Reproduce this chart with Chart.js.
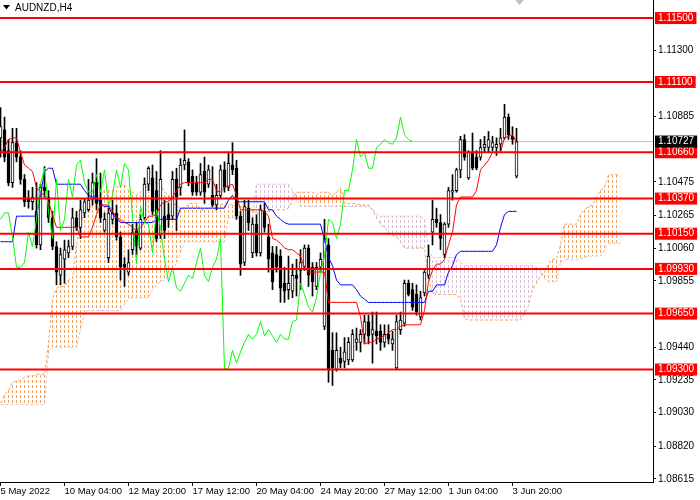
<!DOCTYPE html>
<html>
<head>
<meta charset="utf-8">
<script src="https://cdn.jsdelivr.net/npm/chart.js@4.4.1/dist/chart.umd.min.js"></script>
<style>
  html, body { margin: 0; padding: 0; background: #fff; }
  #wrap { width: 700px; height: 500px; }
</style>
</head>
<body>
<div id="wrap"><canvas id="myChart" width="700" height="500"></canvas></div>
<script>
// AUDNZD H4 with Ichimoku

const symbol = "AUDNZD,H4";

// one entry per H4 bar, bar 0 = first bar on screen
const opens = [
  1.1075, 1.1080, 1.1067, 1.1047, 1.1072, 1.1063, 1.1049, 1.1037, 1.1035, 1.1029,
  1.1008, 1.1044, 1.1038, 1.1025, 1.1007, 1.0989, 1.0999, 1.1003, 1.1007, 1.1025,
  1.1019, 1.1028, 1.1030, 1.1036, 1.1047, 1.1036, 1.1017, 1.1000, 1.1024, 1.1028,
  1.1013, 1.0996, 1.0991, 1.1005, 1.1017, 1.1006, 1.1025, 1.1046, 1.1050, 1.1042,
  1.1014, 1.1026, 1.1027, 1.1026, 1.1049, 1.1044, 1.1058, 1.1060, 1.1051, 1.1047,
  1.1041, 1.1054, 1.1046, 1.1039, 1.1033, 1.1039, 1.1055, 1.1044, 1.1058, 1.1056,
  1.1026, 1.0997, 1.1031, 1.1003, 1.1021, 1.1003, 1.1029, 1.1013, 1.1003, 1.1002,
  1.1001, 1.0984, 1.0980, 1.0979, 1.0989, 1.0992, 1.0994, 1.1006, 1.0994, 1.0982,
  1.0994, 1.0957, 1.1008, 1.0942, 1.0930, 1.0937, 1.0935, 1.0936, 1.0936, 1.0947,
  1.0947, 1.0952, 1.0960, 1.0952, 1.0954, 1.0954, 1.0947, 1.0952, 1.0946, 1.0931,
  1.0955, 1.0959, 1.0984, 1.0980, 1.0977, 1.0963, 1.0978, 1.0989, 1.1016, 1.1024,
  1.1022, 1.1002, 1.1021, 1.1041, 1.1042, 1.1055, 1.1074, 1.1050, 1.1066, 1.1063,
  1.1063, 1.1069, 1.1069, 1.1069, 1.1069, 1.1071, 1.1075, 1.1088, 1.1076, 1.1051
];
const highs = [
  1.1094, 1.1088, 1.1074, 1.1081, 1.1081, 1.1067, 1.1052, 1.1042, 1.1044, 1.1047,
  1.1046, 1.1057, 1.1042, 1.1029, 1.1010, 1.1006, 1.1011, 1.1011, 1.1031, 1.1029,
  1.1036, 1.1037, 1.1049, 1.1053, 1.1062, 1.1053, 1.1028, 1.1031, 1.1036, 1.1033,
  1.1016, 1.1000, 1.1005, 1.1021, 1.1022, 1.1027, 1.1050, 1.1057, 1.1058, 1.1054,
  1.1067, 1.1036, 1.1034, 1.1054, 1.1056, 1.1062, 1.1080, 1.1062, 1.1055, 1.1051,
  1.1059, 1.1063, 1.1058, 1.1057, 1.1046, 1.1058, 1.1060, 1.1066, 1.1072, 1.1061,
  1.1029, 1.1036, 1.1036, 1.1025, 1.1027, 1.1033, 1.1034, 1.1021, 1.1007, 1.1007,
  1.1005, 1.0994, 1.1001, 1.0996, 1.0999, 1.1005, 1.1008, 1.1008, 1.0997, 1.0997,
  1.1003, 1.1024, 1.1012, 1.0953, 1.0953, 1.0944, 1.0950, 1.0950, 1.0955, 1.0956,
  1.0955, 1.0964, 1.0964, 1.0966, 1.0966, 1.0958, 1.0958, 1.0958, 1.0954, 1.0964,
  1.0966, 1.0986, 1.0986, 1.0984, 1.0983, 1.0979, 1.0992, 1.1008, 1.1036, 1.1031,
  1.1027, 1.1022, 1.1044, 1.1052, 1.1056, 1.1076, 1.1077, 1.1067, 1.1078, 1.1067,
  1.1074, 1.1076, 1.1079, 1.1076, 1.1075, 1.1081, 1.1096, 1.1090, 1.1082, 1.1081
];
const lows = [
  1.1063, 1.1060, 1.1045, 1.1044, 1.1060, 1.1046, 1.1032, 1.1031, 1.1030, 1.1006,
  1.1005, 1.1038, 1.1022, 1.1005, 1.0983, 1.0983, 1.0984, 1.1000, 1.1005, 1.1017,
  1.1012, 1.1025, 1.1029, 1.1033, 1.1030, 1.1022, 1.1016, 1.0997, 1.1021, 1.1011,
  1.0986, 1.0982, 1.0989, 1.1002, 1.1002, 1.1005, 1.1024, 1.1042, 1.1027, 1.1010,
  1.1012, 1.1012, 1.1019, 1.1024, 1.1017, 1.1039, 1.1055, 1.1045, 1.1039, 1.1039,
  1.1039, 1.1034, 1.1044, 1.1032, 1.1030, 1.1037, 1.1041, 1.1042, 1.1052, 1.1024,
  1.0989, 1.0995, 1.1017, 1.1000, 1.1001, 1.1001, 1.1016, 1.0991, 1.0980, 1.0991,
  1.0972, 1.0972, 1.0974, 1.0975, 1.0976, 1.0980, 1.0992, 1.0982, 1.0976, 1.0980,
  1.0991, 1.0955, 1.0922, 1.0920, 1.0929, 1.0931, 1.0931, 1.0933, 1.0935, 1.0942,
  1.0941, 1.0946, 1.0946, 1.0934, 1.0946, 1.0942, 1.0944, 1.0946, 1.0942, 1.0930,
  1.0952, 1.0957, 1.0976, 1.0967, 1.0964, 1.0961, 1.0976, 1.0987, 1.1008, 1.1019,
  1.1005, 1.1000, 1.1019, 1.1036, 1.1041, 1.1050, 1.1061, 1.1049, 1.1055, 1.1055,
  1.1061, 1.1066, 1.1066, 1.1067, 1.1064, 1.1067, 1.1074, 1.1074, 1.1071, 1.1050
];
const closes = [
  1.1082, 1.1063, 1.1047, 1.1072, 1.1063, 1.1049, 1.1035, 1.1035, 1.1038, 1.1008,
  1.1044, 1.1042, 1.1025, 1.1007, 1.0991, 1.1002, 1.1005, 1.1007, 1.1025, 1.1019,
  1.1030, 1.1035, 1.1036, 1.1047, 1.1034, 1.1025, 1.1024, 1.1028, 1.1028, 1.1013,
  1.0994, 1.0994, 1.0997, 1.1016, 1.1007, 1.1024, 1.1046, 1.1056, 1.1029, 1.1012,
  1.1049, 1.1017, 1.1024, 1.1049, 1.1038, 1.1058, 1.1061, 1.1047, 1.1041, 1.1041,
  1.1052, 1.1041, 1.1055, 1.1033, 1.1039, 1.1055, 1.1044, 1.1059, 1.1055, 1.1026,
  1.0996, 1.1032, 1.1022, 1.1021, 1.1003, 1.1030, 1.1019, 1.0999, 1.0985, 1.0994,
  1.0981, 1.0979, 1.0984, 1.0989, 1.0987, 1.0997, 1.1006, 1.0989, 1.0985, 1.0994,
  1.0999, 1.1012, 1.0930, 1.0931, 1.0942, 1.0934, 1.0941, 1.0947, 1.0952, 1.0949,
  1.0952, 1.0960, 1.0951, 1.0955, 1.0951, 1.0947, 1.0952, 1.0949, 1.0949, 1.0960,
  1.0961, 1.0984, 1.0977, 1.0969, 1.0966, 1.0975, 1.0991, 1.1001, 1.1024, 1.1022,
  1.1012, 1.1021, 1.1042, 1.1042, 1.1055, 1.1074, 1.1063, 1.1066, 1.1056, 1.1056,
  1.1069, 1.1071, 1.1074, 1.1072, 1.1071, 1.1075, 1.1088, 1.1077, 1.1074, 1.10727
];

// Ichimoku lines as drawn
const tenkan = [
  1.1066, 1.1069, 1.1074, 1.1075, 1.1075, 1.1066, 1.1058, 1.1056, 1.1054, 1.1044,
  1.1041, 1.1039, 1.1035, 1.1027, 1.1019, 1.1019, 1.1019, 1.1019, 1.1019, 1.1019,
  1.1013, 1.1013, 1.1013, 1.1019, 1.1027, 1.1033, 1.1033, 1.1033, 1.1029, 1.1025,
  1.1024, 1.1022, 1.1021, 1.1019, 1.1017, 1.1019, 1.1022, 1.1026, 1.1026, 1.1027,
  1.1033, 1.1035, 1.1035, 1.1038, 1.1042, 1.1046, 1.1047, 1.1047, 1.1047, 1.1047,
  1.1047, 1.1047, 1.1049, 1.1049, 1.1042, 1.1041, 1.1044, 1.1045, 1.1046, 1.1039,
  1.1030, 1.1030, 1.1030, 1.1030, 1.1030, 1.1030, 1.1029, 1.1026, 1.1012, 1.1011,
  1.1009, 1.1006, 1.1005, 1.1005, 1.1003, 1.1001, 1.0994, 1.0991, 1.0991, 1.0991,
  1.0991, 1.0991, 1.0972, 1.0972, 1.0972, 1.0972, 1.0972, 1.0972, 1.0972, 1.0972,
  1.0963, 1.0946, 1.0947, 1.0947, 1.0949, 1.0950, 1.0951, 1.0953, 1.0955, 1.0955,
  1.0957, 1.0958, 1.0958, 1.0958, 1.0958, 1.0958, 1.0967, 1.0985, 1.0992, 1.0996,
  1.0996, 1.0999, 1.1008, 1.1016, 1.1033, 1.1038, 1.1038, 1.1038, 1.1038, 1.1042,
  1.1055, 1.1058, 1.1061, 1.1066, 1.1066, 1.1066, 1.1075, 1.1076, 1.1077, 1.1072
];
const kijun = [
  1.1010, 1.1010, 1.1010, 1.1010, 1.1026, 1.1026, 1.1026, 1.1026, 1.1026, 1.1026,
  1.1039, 1.1054, 1.1056, 1.1056, 1.1046, 1.1046, 1.1046, 1.1046, 1.1046, 1.1046,
  1.1046, 1.1042, 1.1039, 1.1038, 1.1038, 1.1034, 1.1032, 1.1032, 1.1027, 1.1025,
  1.1022, 1.1022, 1.1022, 1.1022, 1.1022, 1.1022, 1.1022, 1.1022, 1.1022, 1.1024,
  1.1024, 1.1024, 1.1024, 1.1024, 1.1024, 1.1031, 1.1031, 1.1031, 1.1031, 1.1031,
  1.1031, 1.1031, 1.1031, 1.1031, 1.1031, 1.1031, 1.1031, 1.1036, 1.1039, 1.1035,
  1.1035, 1.1035, 1.1035, 1.1035, 1.1035, 1.1035, 1.1035, 1.1030, 1.1030, 1.1026,
  1.1024, 1.1022, 1.1021, 1.1021, 1.1021, 1.1021, 1.1021, 1.1021, 1.1021, 1.1021,
  1.1021, 1.1011, 1.1000, 1.0995, 1.0986, 1.0983, 1.0983, 1.0983, 1.0983, 1.0980,
  1.0976, 1.0974, 1.0972, 1.0972, 1.0972, 1.0972, 1.0972, 1.0972, 1.0972, 1.0972,
  1.0972, 1.0972, 1.0972, 1.0972, 1.0972, 1.0972, 1.0972, 1.0979, 1.0979, 1.0983,
  1.0983, 1.0983, 1.0991, 1.0995, 1.1002, 1.1004, 1.1004, 1.1004, 1.1004, 1.1004,
  1.1004, 1.1004, 1.1004, 1.1004, 1.1008, 1.1019, 1.1027, 1.1029, 1.1029, 1.1029
];
// senkou spans run 26 bars past the last candle
const senkouA = [
  1.0909, 1.0914, 1.0917, 1.0922, 1.0923, 1.0923, 1.0925, 1.0926, 1.0926, 1.0927,
  1.0927, 1.0927, 1.0946, 1.0974, 1.0981, 1.0982, 1.0982, 1.0986, 1.0987, 1.1008,
  1.1022, 1.1027, 1.1030, 1.1034, 1.1037, 1.1039, 1.1042, 1.1042, 1.1042, 1.1044,
  1.1045, 1.1046, 1.1042, 1.1041, 1.1039, 1.1041, 1.1044, 1.1044, 1.1047, 1.1047,
  1.1046, 1.1041, 1.1039, 1.1034, 1.1033, 1.1031, 1.1031, 1.1034, 1.1034, 1.1034,
  1.1030, 1.1030, 1.1031, 1.1032, 1.1033, 1.1033, 1.1034, 1.1034, 1.1033, 1.1032,
  1.1032, 1.1032, 1.1031, 1.1030, 1.1028, 1.1028, 1.1029, 1.1029, 1.1029, 1.1030,
  1.1030, 1.1030, 1.1031, 1.1036, 1.1041, 1.1041, 1.1041, 1.1041, 1.1041, 1.1039,
  1.1041, 1.1041, 1.1041, 1.1039, 1.1041, 1.1044, 1.1034, 1.1034, 1.1034, 1.1034,
  1.1033, 1.1033, 1.1033, 1.1030, 1.1025, 1.1021, 1.1019, 1.1016, 1.1014, 1.1013,
  1.1010, 1.1006, 1.1006, 1.1006, 1.1006, 1.1006, 1.1006, 1.0986, 1.0978, 1.0977,
  1.0977, 1.0977, 1.0977, 1.0977, 1.0977, 1.0974, 1.0962, 1.0961, 1.0961, 1.0961,
  1.0961, 1.0961, 1.0961, 1.0961, 1.0961, 1.0961, 1.0961, 1.0961, 1.0961, 1.0961,
  1.0961, 1.0965, 1.0970, 1.0980, 1.0984, 1.0989, 1.0991, 1.0996, 1.0999, 1.0999,
  1.1008, 1.1021, 1.1021, 1.1021, 1.1021, 1.1027, 1.1030, 1.1032, 1.1033, 1.1038,
  1.1042, 1.1044, 1.1052, 1.1052, 1.1052, 1.1051
];
const senkouB = [
  1.0908, 1.0908, 1.0908, 1.0908, 1.0908, 1.0908, 1.0908, 1.0908, 1.0908, 1.0908,
  1.0908, 1.0908, 1.0941, 1.0944, 1.0944, 1.0944, 1.0944, 1.0944, 1.0944, 1.0944,
  1.0955, 1.0966, 1.0967, 1.0967, 1.0967, 1.0967, 1.0967, 1.0967, 1.0967, 1.0967,
  1.0967, 1.0971, 1.0974, 1.0975, 1.0975, 1.0975, 1.0975, 1.0975, 1.0980, 1.0983,
  1.0985, 1.0986, 1.0989, 1.0992, 1.0997, 1.1003, 1.1010, 1.1010, 1.1010, 1.1010,
  1.1010, 1.1010, 1.1010, 1.1010, 1.1010, 1.1010, 1.1010, 1.1025, 1.1025, 1.1025,
  1.1025, 1.1025, 1.1025, 1.1025, 1.1046, 1.1046, 1.1046, 1.1046, 1.1046, 1.1046,
  1.1046, 1.1046, 1.1046, 1.1042, 1.1036, 1.1032, 1.1032, 1.1032, 1.1032, 1.1032,
  1.1032, 1.1032, 1.1032, 1.1032, 1.1032, 1.1032, 1.1032, 1.1032, 1.1032, 1.1032,
  1.1032, 1.1032, 1.1032, 1.1030, 1.1028, 1.1026, 1.1026, 1.1026, 1.1026, 1.1026,
  1.1026, 1.1026, 1.1026, 1.1026, 1.1026, 1.1026, 1.1024, 1.1005, 1.1000, 1.1000,
  1.1000, 1.1000, 1.1000, 1.1000, 1.1000, 1.0997, 1.0995, 1.0995, 1.0995, 1.0995,
  1.0995, 1.0995, 1.0995, 1.0995, 1.0995, 1.0995, 1.0995, 1.0995, 1.0995, 1.0995,
  1.0995, 1.0995, 1.0995, 1.0995, 1.0994, 1.0992, 1.0987, 1.0985, 1.0985, 1.0985,
  1.0997, 1.0999, 1.0999, 1.0999, 1.0999, 1.0999, 1.1000, 1.1001, 1.1001, 1.1001,
  1.1001, 1.1005, 1.1009, 1.1009, 1.1009, 1.1009
];

// horizontal levels and the current bid
const levels = [1.115, 1.111, 1.1066, 1.1037, 1.1015, 1.0993, 1.0965, 1.093];
const bid = 1.10727;

// axis ticks
const priceTicks = [1.113, 1.10885, 1.10475, 1.10265, 1.1006, 1.09855, 1.0944, 1.09235, 1.0903, 1.0882, 1.08615];
const timeTickBars = [0, 16, 32, 48, 64, 80, 96, 112, 128];
const timeTickLabels = ["5 May 2022", "10 May 04:00", "12 May 20:00", "17 May 12:00", "20 May 04:00",
  "24 May 20:00", "27 May 12:00", "1 Jun 04:00", "3 Jun 20:00"];

const xMin = -0.125, xMax = 163.125;
const yMin = 1.08596, yMax = 1.11613;

const chikouShift = 26;

// vertical dashed hatching like the MT4 cloud
const hatch = (color) => {
  const c = document.createElement("canvas");
  c.width = 4;
  c.height = 5;
  const g = c.getContext("2d");
  g.fillStyle = color;
  g.fillRect(0, 0, 1, 3);
  return g.createPattern(c, "repeat");
};
const cloudUp = "#f4a460",
  cloudDown = "#d8bfd8";

const pts = (arr) => arr.map((v, i) => ({ x: i, y: v }));

const datasets = [];

levels.forEach((lv) => {
  datasets.push({
    type: "line",
    data: [{ x: xMin, y: lv }, { x: xMax, y: lv }],
    borderColor: "#ff0000",
    borderWidth: 2,
    pointRadius: 0,
    order: 0,
  });
});

datasets.push({
  type: "line",
  data: pts(closes.slice(chikouShift)),
  borderColor: "#00ff00",
  borderWidth: 1,
  pointRadius: 0,
  order: 1,
});
datasets.push({
  type: "line",
  data: pts(tenkan),
  borderColor: "#ff0000",
  borderWidth: 1,
  pointRadius: 0,
  order: 1,
});
datasets.push({
  type: "line",
  data: pts(kijun),
  borderColor: "#0000ff",
  borderWidth: 1,
  pointRadius: 0,
  order: 1,
});

// candle bodies
datasets.push({
  type: "bar",
  data: opens.map((o, i) => ({ x: i, y: [o, closes[i]] })),
  backgroundColor: opens.map((o, i) => (closes[i] >= o ? "#ffffff" : "#000000")),
  borderColor: "#000000",
  borderWidth: 1,
  borderSkipped: false,
  barThickness: 3,
  minBarLength: 1,
  grouped: false,
  order: 2,
});
// wicks
datasets.push({
  type: "bar",
  data: lows.map((l, i) => ({ x: i, y: [l, highs[i]] })),
  backgroundColor: "#000000",
  borderWidth: 0,
  barThickness: 1,
  grouped: false,
  order: 3,
});

datasets.push({
  type: "line",
  data: [{ x: xMin, y: bid }, { x: xMax, y: bid }],
  borderColor: "#c0c0c0",
  borderWidth: 1,
  pointRadius: 0,
  order: 4,
});

datasets.push({
  type: "line",
  data: pts(senkouA),
  borderColor: cloudUp,
  borderWidth: 1,
  borderDash: [3, 2],
  pointRadius: 0,
  fill: { target: "+1", above: hatch(cloudUp), below: hatch(cloudDown) },
  order: 5,
});
datasets.push({
  type: "line",
  data: pts(senkouB),
  borderColor: cloudDown,
  borderWidth: 1,
  borderDash: [3, 2],
  pointRadius: 0,
  order: 6,
});

const isLevel = (v) => levels.includes(v);

const header = {
  id: "header",
  afterDraw(chart) {
    const c = chart.ctx;
    c.save();
    c.fillStyle = "#000";
    c.beginPath();
    c.moveTo(3, 5);
    c.lineTo(10, 5);
    c.lineTo(6.5, 9.5);
    c.closePath();
    c.fill();
    c.font = '10px "Liberation Sans"';
    c.textBaseline = "middle";
    c.fillText(symbol, 15, 8);
    // chart shift marker
    const sx = chart.scales.x.getPixelForValue(closes.length - 1) + 3;
    c.fillStyle = "#bdbdbd";
    c.beginPath();
    c.moveTo(sx - 4, 0);
    c.lineTo(sx + 4, 0);
    c.lineTo(sx, 5);
    c.closePath();
    c.fill();
    c.restore();
  },
};

new Chart(document.getElementById("myChart"), {
  type: "bar",
  data: { datasets },
  plugins: [header],
  options: {
    responsive: false,
    devicePixelRatio: 1,
    animation: false,
    layout: { padding: 0 },
    plugins: { legend: { display: false }, tooltip: { enabled: false } },
    scales: {
      x: {
        type: "linear",
        min: xMin,
        max: xMax,
        offset: false,
        grid: { display: true, drawOnChartArea: false, offset: false, tickLength: 4, color: "#000" },
        border: { display: true, color: "#000", width: 1 },
        afterBuildTicks: (s) => {
          s.ticks = timeTickBars.map((v) => ({ value: v }));
        },
        afterFit: (s) => {
          s.height = 18;
          s.paddingLeft = 0;
          s.paddingRight = 0;
        },
        ticks: {
          autoSkip: false,
          maxRotation: 0,
          minRotation: 0,
          align: "start",
          padding: 0,
          color: "#000",
          font: { family: "Liberation Sans", size: 9.5 },
          callback: (v) => timeTickLabels[timeTickBars.indexOf(v)],
        },
      },
      y: {
        type: "linear",
        position: "right",
        min: yMin,
        max: yMax,
        grid: {
          display: true,
          drawOnChartArea: false,
          tickLength: 3,
          color: (ctx) => (ctx.tick && (isLevel(ctx.tick.value) || ctx.tick.value === bid) ? "rgba(0,0,0,0)" : "#000"),
        },
        border: { display: true, color: "#000", width: 1 },
        afterBuildTicks: (s) => {
          s.ticks = priceTicks.concat(levels, [bid]).sort((a, b) => a - b).map((v) => ({ value: v }));
        },
        afterFit: (s) => {
          s.width = 47;
          s.paddingTop = 0;
          s.paddingBottom = 0;
        },
        ticks: {
          autoSkip: false,
          padding: 2,
          font: { family: "Liberation Sans", size: 10 },
          color: (ctx) => (isLevel(ctx.tick.value) || ctx.tick.value === bid ? "#ffffff" : "#000000"),
          showLabelBackdrop: (ctx) => isLevel(ctx.tick.value) || ctx.tick.value === bid,
          backdropColor: (ctx) => (ctx.tick.value === bid ? "#000000" : "#ff0000"),
          backdropPadding: { left: 3, right: 3, top: 0, bottom: 0 },
          callback: (v) => v.toFixed(5),
        },
      },
    },
  },
});
</script>
</body>
</html>
